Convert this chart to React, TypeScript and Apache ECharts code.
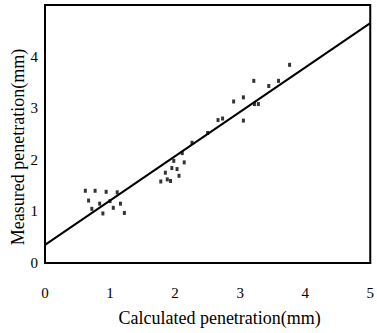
import React, { useEffect, useRef } from "react";
import * as echarts from "echarts";

const xTicks = [0, 1, 2, 3, 4, 5];
const yTicks = [0, 1, 2, 3, 4];

const measuredPoints: [number, number][] = [
  [0.62, 1.4], [0.77, 1.4], [0.94, 1.38], [1.11, 1.37],
  [0.67, 1.21], [0.84, 1.15], [1.0, 1.2], [1.16, 1.15],
  [0.72, 1.05], [0.89, 0.96], [1.05, 1.07], [1.22, 0.97],
  [1.78, 1.58], [1.85, 1.75], [1.88, 1.62], [1.93, 1.59],
  [1.95, 1.84], [1.98, 1.98], [2.03, 1.82], [2.06, 1.69],
  [2.14, 1.95], [2.11, 2.13], [2.26, 2.33],
  [2.5, 2.52], [2.66, 2.77], [2.73, 2.8], [2.9, 3.13],
  [3.05, 3.21], [3.05, 2.76], [3.21, 3.53], [3.22, 3.08],
  [3.28, 3.08], [3.44, 3.43], [3.59, 3.53], [3.76, 3.84],
];

const fitLine: [number, number][] = [
  [0, 0.35],
  [5, 4.65],
];

const FONT = "Liberation Serif";

export default function App() {
  const ref = useRef<HTMLDivElement>(null);
  useEffect(() => {
    if (!ref.current) return;
    const chart = echarts.init(ref.current, undefined, { renderer: "svg" });
    chart.setOption({
      animation: false,
      backgroundColor: "#ffffff",
      grid: {
        left: 45,
        right: 2,
        top: 5,
        bottom: 70,
        show: true,
        borderColor: "#000",
        borderWidth: 2,
        containLabel: false,
      },
      xAxis: {
        type: "value",
        min: 0,
        max: 5,
        interval: 1,
        name: "Calculated penetration(mm)",
        nameLocation: "middle",
        nameGap: 46,
        nameTextStyle: {
          fontFamily: FONT,
          fontSize: 18,
          color: "#000",
          padding: [0, 0, 0, 24],
        },
        axisLine: { show: true, lineStyle: { color: "#000", width: 2 } },
        axisTick: { show: false },
        splitLine: { show: false },
        axisLabel: {
          margin: 22,
          fontFamily: FONT,
          fontSize: 15,
          color: "#000",
          formatter: (v: number) => (xTicks.includes(v) ? String(v) : ""),
        },
      },
      yAxis: {
        type: "value",
        min: 0,
        max: 5,
        interval: 1,
        axisLine: { show: true, lineStyle: { color: "#000", width: 2 } },
        axisTick: { show: false },
        splitLine: { show: false },
        axisLabel: {
          margin: 7,
          fontFamily: FONT,
          fontSize: 15,
          color: "#000",
          formatter: (v: number) => (yTicks.includes(v) ? String(v) : ""),
        },
      },
      graphic: [
        {
          type: "text",
          x: 18,
          y: 147,
          rotation: Math.PI / 2,
          style: {
            text: "Measured penetration(mm)",
            fontFamily: FONT,
            fontSize: 18,
            fill: "#000",
            align: "center",
            verticalAlign: "middle",
          },
        },
      ],
      series: [
        {
          type: "line",
          data: fitLine,
          showSymbol: false,
          symbol: "none",
          lineStyle: { color: "#000", width: 2 },
          silent: true,
        },
        {
          type: "scatter",
          data: measuredPoints,
          symbol: "rect",
          symbolSize: [3, 4],
          itemStyle: { color: "#000" },
        },
      ],
    });
    return () => chart.dispose();
  }, []);
  return (
    <div
      ref={ref}
      style={{ position: "fixed", left: 0, top: 0, width: 377, height: 333 }}
    />
  );
}
